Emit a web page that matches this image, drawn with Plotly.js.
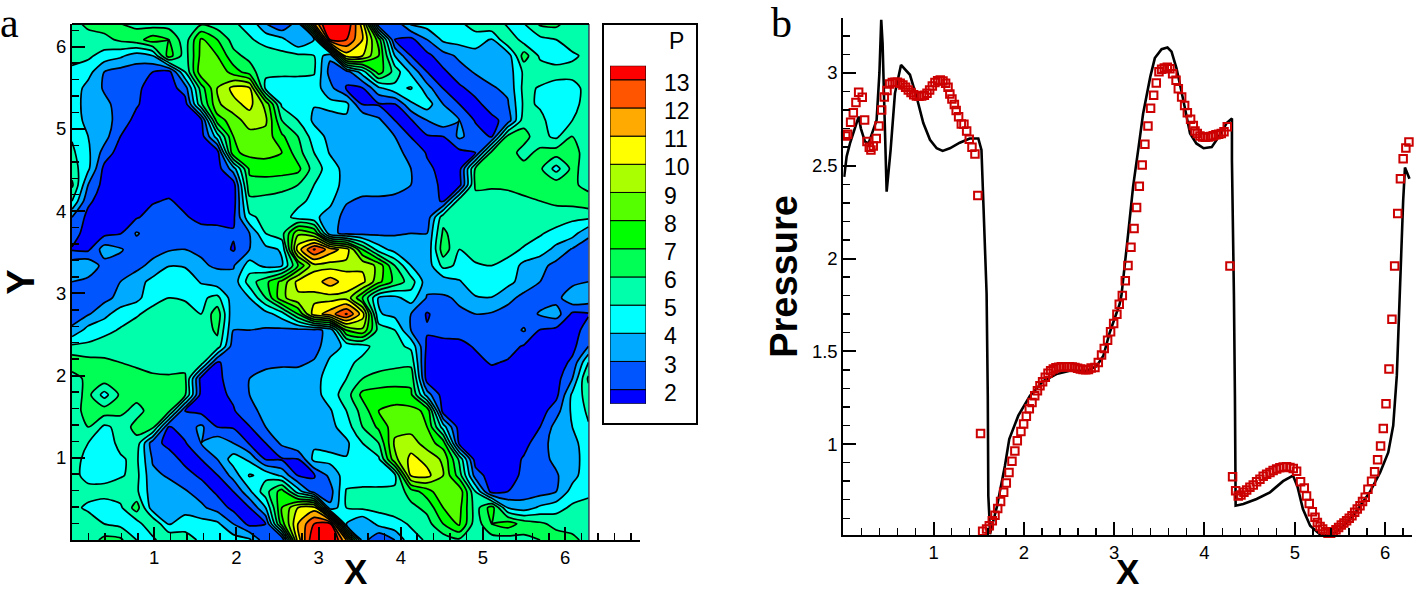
<!DOCTYPE html>
<html>
<head>
<meta charset="utf-8">
<script src="https://cdn.plot.ly/plotly-3.0.1.min.js"></script>
<style>html,body{margin:0;padding:0;background:#fff}#chart{width:1414px;height:592px}</style>
</head>
<body>
<div id="chart"></div>
<script>
// Pressure field, rows listed from the top edge (y = 2 pi) to the bottom edge (y = 0)
var pressureRows = [
[5.6,6.3,6.5,6,5.7,5.5,5.5,5.9,5.8,5.4,5.1,4.7,3,2,3.5,11,15,14,10.5,2,2.3,4.2,4.5,4.6,4.8,5.5,6,4.7,5,6.2,6.3,5.4,5.3],
[5.3,5.5,5.7,6.2,6.6,7.5,7,5.4,8.2,7,5.6,5.1,4.7,4.3,3,4,13.2,13,11,7.5,2,1.7,3,4.2,4.4,4.5,3.9,6,4.5,4.7,5,5.6,5.3],
[5.3,5.2,4.6,4.2,3.5,4,7.5,5.5,8.3,8,6.3,5.7,5.4,5.3,5.2,5,3.2,10.5,10,8,4,2,1.7,2.6,3.2,3.6,3.5,3.4,6.5,4.8,4.5,4.8,5.3],
[4.8,4.4,3,2.6,2.5,2,1.6,5,8.7,8.9,7.5,6.5,5.2,5.2,5.2,5.1,2.6,2.5,4.5,7.5,5.6,3.8,2,1.8,2.6,3.1,3.4,3.4,5.2,5.6,5.4,5.4,5.4],
[4.7,3.6,2.9,2.5,2.2,1.6,1.5,2.5,6.5,9,10.3,10.1,4.7,4.5,4.5,4.5,3.3,1.9,1.95,3.8,4.7,5.1,3.4,1.95,1.8,2.4,2.9,3.2,5.3,4.9,4.6,4.6,5.4],
[4.6,3.5,3.2,2.7,2.1,1.5,1.5,1.5,5.8,8.8,9.7,10.3,8.7,4.8,4.4,4.05,4.3,4.3,1.95,1.9,1.95,3.8,4.5,3,2,1.7,2.5,2.9,5.2,4.9,4.6,4.7,5.4],
[4.7,3.6,3.5,2.5,1.7,1.5,1.5,1.5,1.7,7.5,8.5,9.5,9.2,6,5,3.8,3.6,3.8,4,3.2,2,1.9,3,3.7,3,1.9,1.7,2.4,5.6,5.2,4.6,5,5.4],
[4.9,4,3.4,2,1.5,1.5,1.5,1.5,1.5,4.5,8,8.6,8.6,7.2,6,4.5,3.7,3.6,3.4,3.3,3,1.95,1.9,2,3.2,2.5,1.9,6.3,6.4,5.3,4.8,6,5.5],
[5.2,4.2,2.6,1.5,1.5,1.5,1.5,1.5,1.5,1.5,7.8,8.3,8.3,8,6.4,5,3.9,3.5,3.5,3.4,3.2,2.8,1.9,1.6,1.7,2,6.3,6.5,5.6,6.3,6.5,6.4,5.5],
[5.5,4.2,1.7,1.5,1.5,1.5,1.5,1.5,1.5,1.5,3.5,7.2,7.5,7.5,7.3,5.5,4.5,3.6,3.6,3.5,3.4,3,2.2,1.7,1.6,6.2,6.6,6.4,6.4,6.2,4.6,6.3,5.5],
[6.2,3,1.6,1.5,1.5,1.5,1.5,1.5,1.5,1.5,1.5,6.7,6.5,6.3,6,5,4.5,3.6,3.5,3.5,3.4,3,2.4,1.8,1.6,6.2,6.1,6.1,6.2,6.3,6.6,6.3,5.5],
[5,2.2,1.5,1.5,1.5,1.9,2.1,1.7,1.5,1.5,1.5,5.7,5.7,5.6,5.3,4.7,4.2,3.1,2.8,2.8,2.7,2.6,2.4,1.9,5.6,5.6,5.7,5.8,5.9,6,6.2,6.4,6.7],
[3,1.7,1.5,1.5,1.9,2.4,2.5,2.1,1.7,1.6,1.8,4.8,5.3,5.5,4.6,4.2,3.6,2.6,2.5,2.5,2.5,2.5,2.4,5.6,5.5,5.5,5.5,5.5,5.5,5.5,5.5,5.2,5.2],
[2.5,1.5,1.7,1.95,3.1,2.5,2.5,2.5,2.4,2.4,2.1,3,5,5.6,8.8,8,3.3,2.7,2.7,2.8,2.9,3,3,6.2,5.4,5.5,5.5,5.5,5.4,5.1,4.7,4.4,3.2],
[1.9,1.8,3.5,3.1,2.5,2.6,2.9,3,2.9,2.5,1.9,3,3.7,4.1,10.5,13.1,11.5,10.5,7,4.5,3.6,3.3,3.2,6.6,5,5.4,5.4,5.3,4.9,4.5,3.7,2.9,2.5],
[3.6,3.8,2.6,2.6,2.7,3.3,3.95,3.9,3.1,2.9,2.9,4.5,3.7,3.9,7,9.7,9.6,9.7,9.8,8.7,6,4,3.4,5.3,4.8,4.9,5,4.7,3.7,3.3,2.7,2.3,2.2],
[3,2.7,2.9,3,3.6,4.3,5,4.7,3.9,3.4,3.4,5.5,6.7,8.3,10.3,10.5,11.5,10.5,10.3,8.3,6.7,5.5,3.4,3.4,3.9,4.7,5,4.3,3.6,3,2.9,2.7,3],
[2.2,2.3,2.7,3.3,3.7,4.7,5,4.9,4.8,5.3,3.4,4,6,8.7,9.8,9.7,9.6,9.7,7,3.9,3.7,4.5,2.9,2.9,3.1,3.9,3.95,3.3,2.7,2.6,2.6,3.8,3.6],
[2.5,2.9,3.7,4.5,4.9,5.3,5.4,5.4,5,6.6,3.2,3.3,3.6,4.5,7,10.5,11.5,13.1,10.5,4.1,3.7,3,1.9,2.5,2.9,3,2.9,2.6,2.5,3.1,3.5,1.8,1.9],
[3.2,4.4,4.7,5.1,5.4,5.5,5.5,5.5,5.4,6.2,3,3,2.9,2.8,2.7,2.7,3.3,8,8.8,5.6,5,3,2.1,2.4,2.4,2.5,2.5,2.5,3.1,1.95,1.7,1.5,2.5],
[5.2,5.2,5.5,5.5,5.5,5.5,5.5,5.5,5.5,5.6,2.4,2.5,2.5,2.5,2.5,2.6,3.6,4.2,4.6,5.5,5.3,4.8,1.8,1.6,1.7,2.1,2.5,2.4,1.9,1.5,1.5,1.7,3],
[6.7,6.4,6.2,6,5.9,5.8,5.7,5.6,5.6,1.9,2.4,2.6,2.7,2.8,2.8,3.1,4.2,4.7,5.3,5.6,5.7,5.7,1.5,1.5,1.5,1.7,2.1,1.9,1.5,1.5,1.5,2.2,5],
[5.5,6.3,6.6,6.3,6.2,6.1,6.1,6.2,1.6,1.8,2.4,3,3.4,3.5,3.5,3.6,4.5,5,6,6.3,6.5,6.7,1.5,1.5,1.5,1.5,1.5,1.5,1.5,1.5,1.6,3,6.2],
[5.5,6.3,4.6,6.2,6.4,6.4,6.6,6.2,1.6,1.7,2.2,3,3.4,3.5,3.6,3.6,4.5,5.5,7.3,7.5,7.5,7.2,3.5,1.5,1.5,1.5,1.5,1.5,1.5,1.5,1.7,4.2,5.5],
[5.5,6.4,6.5,6.3,5.6,6.5,6.3,2,1.7,1.6,1.9,2.8,3.2,3.4,3.5,3.5,3.9,5,6.4,8,8.3,8.3,7.8,1.5,1.5,1.5,1.5,1.5,1.5,1.5,2.6,4.2,5.2],
[5.5,6,4.8,5.3,6.4,6.3,1.9,2.5,3.2,2,1.9,1.95,3,3.3,3.4,3.6,3.7,4.5,6,7.2,8.6,8.6,8,4.5,1.5,1.5,1.5,1.5,1.5,2,3.4,4,4.9],
[5.4,5,4.6,5.2,5.6,2.4,1.7,1.9,3,3.7,3,1.9,2,3.2,4,3.8,3.6,3.8,5,6,9.2,9.5,8.5,7.5,1.7,1.5,1.5,1.5,1.7,2.5,3.5,3.6,4.7],
[5.4,4.7,4.6,4.9,5.2,2.9,2.5,1.7,2,3,4.5,3.8,1.95,1.9,1.95,4.3,4.3,4.05,4.4,4.8,8.7,10.3,9.7,8.8,5.8,1.5,1.5,1.5,2.1,2.7,3.2,3.5,4.6],
[5.4,4.6,4.6,4.9,5.3,3.2,2.9,2.4,1.8,1.95,3.4,5.1,4.7,3.8,1.95,1.9,3.3,4.5,4.5,4.5,4.7,10.1,10.3,9,6.5,2.5,1.5,1.6,2.2,2.5,2.9,3.6,4.7],
[5.4,5.4,5.4,5.6,5.2,3.4,3.4,3.1,2.6,1.8,2,3.8,5.6,7.5,4.5,2.5,2.6,5.1,5.2,5.2,5.2,6.5,7.5,8.9,8.7,5,1.6,2,2.5,2.6,3,4.4,4.8],
[5.3,4.8,4.5,4.8,6.5,3.4,3.5,3.6,3.2,2.6,1.7,2,4,8,10,10.5,3.2,5,5.2,5.3,5.4,5.7,6.3,8,8.3,5.5,7.5,4,3.5,4.2,4.6,5.2,5.3],
[5.3,5.6,5,4.7,4.5,6,3.9,4.5,4.4,4.2,3,1.7,2,7.5,11,13,13.2,4,3,4.3,4.7,5.1,5.6,7,8.2,5.4,7,7.5,6.6,6.2,5.7,5.5,5.3],
[5.3,5.4,6.3,6.2,5,4.7,6,5.5,4.8,4.6,4.5,4.2,2.3,2,10.5,14,15,11,3.5,2,3,4.7,5.1,5.4,5.8,5.9,5.5,5.5,5.7,6,6.5,6.3,5.6]
];
var gridStep = 0.19635;
var bandColors = ['#0000ff','#0055ff','#00aaff','#00ffff','#00ffaa','#00ff55','#00ff00','#55ff00','#aaff00','#ffff00','#ffaa00','#ff5500','#ff0000'];
var bandEdges = [1.5,2,3,4,5,6,7,8,9,10,11,12,13,13.5];
var levelLabels = [2,3,4,5,6,7,8,9,10,11,12,13];

// Panel b
var curveX = [0.01,0.037,0.074,0.13,0.17,0.195,0.24,0.28,0.369,0.40,0.413,0.42,0.435,0.45,0.48,0.524,0.572,0.639,0.738,0.812,0.886,0.96,1.034,1.1,1.18,1.29,1.40,1.495,1.53,1.55,1.587,1.6,1.606,1.617,1.624,1.70,1.79,1.838,1.938,2.067,2.215,2.36,2.51,2.695,2.805,2.88,2.95,3.06,3.08,3.155,3.21,3.27,3.32,3.40,3.45,3.525,3.59,3.635,3.69,3.765,3.84,3.91,3.99,4.08,4.17,4.245,4.304,4.304,4.32,4.326,4.337,4.345,4.43,4.577,4.725,4.87,4.98,5.03,5.09,5.17,5.28,5.39,5.54,5.685,5.83,5.945,6.035,6.09,6.13,6.15,6.165,6.18,6.2,6.22,6.27];
var curveY = [2.44,2.55,2.62,2.71,2.765,2.70,2.63,2.62,2.746,3.0,3.21,3.286,3.16,2.854,2.36,2.585,2.89,3.043,2.99,2.87,2.73,2.64,2.594,2.58,2.594,2.624,2.647,2.647,2.585,2.315,1.81,1.26,0.72,0.614,0.515,0.66,0.883,1.027,1.153,1.26,1.34,1.377,1.395,1.395,1.42,1.476,1.60,1.754,1.80,2.135,2.39,2.60,2.78,2.98,3.08,3.128,3.137,3.115,3.025,2.854,2.674,2.62,2.594,2.60,2.665,2.73,2.755,2.53,2.135,1.80,1.26,0.668,0.677,0.704,0.74,0.80,0.83,0.77,0.65,0.56,0.513,0.506,0.56,0.64,0.74,0.847,0.955,1.10,1.37,1.67,1.80,2.10,2.31,2.49,2.43];
var squareX = [0.026,0.048,0.081,0.111,0.14,0.17,0.21,0.236,0.262,0.288,0.306,0.332,0.365,0.395,0.425,0.454,0.484,0.513,0.543,0.572,0.60,0.63,0.66,0.69,0.72,0.75,0.78,0.81,0.838,0.868,0.897,0.927,0.956,0.986,1.015,1.045,1.074,1.104,1.133,1.16,1.18,1.203,1.23,1.25,1.277,1.307,1.336,1.366,1.395,1.425,1.458,1.49,1.52,1.543,1.587,1.617,1.65,1.68,1.71,1.742,1.776,1.805,1.835,1.868,1.90,1.927,1.967,1.997,2.027,2.06,2.09,2.12,2.15,2.178,2.207,2.237,2.267,2.296,2.326,2.355,2.385,2.415,2.445,2.475,2.505,2.535,2.565,2.595,2.625,2.655,2.685,2.715,2.745,2.787,2.824,2.86,2.89,2.927,2.96,2.994,3.03,3.056,3.09,3.123,3.153,3.186,3.22,3.248,3.278,3.31,3.34,3.374,3.403,3.437,3.466,3.496,3.525,3.555,3.588,3.617,3.647,3.685,3.71,3.747,3.78,3.81,3.846,3.876,3.895,3.92,3.95,3.98,4.01,4.04,4.07,4.097,4.127,4.157,4.186,4.216,4.252,4.282,4.311,4.345,4.374,4.404,4.437,4.467,4.503,4.54,4.577,4.614,4.65,4.688,4.725,4.76,4.799,4.835,4.872,4.909,4.946,4.983,5.02,5.064,5.105,5.13,5.16,5.194,5.224,5.25,5.28,5.309,5.338,5.368,5.397,5.426,5.456,5.485,5.515,5.544,5.574,5.603,5.633,5.663,5.692,5.722,5.75,5.78,5.81,5.85,5.884,5.917,5.95,5.98,6.01,6.043,6.076,6.106,6.14,6.17,6.2,6.23,6.264];
var squareY = [2.66,2.67,2.734,2.786,2.84,2.896,2.869,2.746,2.63,2.60,2.585,2.606,2.647,2.714,2.80,2.87,2.905,2.94,2.948,2.95,2.95,2.945,2.935,2.923,2.908,2.894,2.883,2.876,2.874,2.876,2.88,2.89,2.908,2.93,2.948,2.958,2.962,2.957,2.944,2.923,2.887,2.86,2.83,2.797,2.764,2.725,2.723,2.687,2.642,2.60,2.563,2.34,1.057,0.53,0.542,0.56,0.587,0.617,0.653,0.69,0.74,0.79,0.847,0.907,0.962,1.018,1.068,1.108,1.15,1.19,1.224,1.26,1.287,1.314,1.336,1.36,1.382,1.395,1.404,1.411,1.414,1.416,1.417,1.417,1.416,1.415,1.412,1.408,1.404,1.402,1.401,1.402,1.41,1.413,1.44,1.48,1.515,1.56,1.605,1.65,1.70,1.754,1.80,1.88,1.962,2.06,2.162,2.275,2.39,2.504,2.615,2.714,2.81,2.88,2.946,3.007,3.02,3.027,3.03,3.023,2.995,2.96,2.915,2.87,2.825,2.786,2.75,2.717,2.687,2.674,2.66,2.655,2.653,2.655,2.658,2.662,2.667,2.67,2.674,2.683,2.71,1.96,0.824,0.749,0.72,0.725,0.74,0.752,0.767,0.78,0.797,0.81,0.826,0.838,0.847,0.858,0.865,0.872,0.876,0.878,0.874,0.869,0.853,0.797,0.763,0.72,0.68,0.635,0.605,0.578,0.556,0.542,0.528,0.52,0.519,0.528,0.538,0.551,0.564,0.574,0.587,0.60,0.614,0.632,0.65,0.668,0.69,0.714,0.757,0.80,0.851,0.916,0.99,1.084,1.217,1.404,1.673,1.96,2.243,2.43,2.538,2.595,2.628];

var W = 1414, H = 592;
function px(v){ return v / W; }
function py(v){ return 1 - v / H; }
var FONT = 'Liberation Sans, Arial, sans-serif';
var SERIF = 'Liberation Serif, Times New Roman, serif';

var traces = [{
  type: 'contour',
  x0: 0, dx: gridStep, y0: 0, dy: gridStep,
  z: pressureRows.slice().reverse(),
  xaxis: 'x', yaxis: 'y',
  autocontour: false,
  contours: {start: 2, end: 13, size: 1, coloring: 'fill', showlines: true},
  line: {color: '#000', width: 1.7, smoothing: 0.7},
  colorscale: bandColors.map(function(c, i){ return [i / (bandColors.length - 1), c]; }),
  showscale: false,
  hoverinfo: 'skip'
}];
bandColors.forEach(function(c, i){
  traces.push({
    type: 'bar', x: [0.5], y: [bandEdges[i + 1] - bandEdges[i]], base: [bandEdges[i]], width: [1],
    xaxis: 'x3', yaxis: 'y3',
    marker: {color: c, line: {color: '#000', width: 1}},
    showlegend: false, hoverinfo: 'skip'
  });
});
traces.push({
  type: 'scatter', mode: 'lines', x: curveX, y: curveY, xaxis: 'x2', yaxis: 'y2',
  line: {color: '#000', width: 2.6}, showlegend: false, hoverinfo: 'skip'
});
traces.push({
  type: 'scatter', mode: 'markers', x: squareX, y: squareY, xaxis: 'x2', yaxis: 'y2',
  marker: {symbol: 'square-open', size: 7.5, color: '#cc0000', line: {color: '#cc0000', width: 2}},
  cliponaxis: false, showlegend: false, hoverinfo: 'skip'
});

function axisBase(extra){
  var a = {
    showgrid: false, zeroline: false, showline: true, linecolor: '#000', linewidth: 2,
    ticks: 'inside', ticklen: 13, tickwidth: 2, tickcolor: '#000',
    tickfont: {family: FONT, size: 18.5, color: '#000'}, layer: 'above traces'
  };
  for (var k in extra) a[k] = extra[k];
  return a;
}
var minor02 = {tick0: 0, dtick: 0.2, ticks: 'inside', ticklen: 7, tickwidth: 1.5, tickcolor: '#000', showgrid: false};
var minor01 = {tick0: 0, dtick: 0.1, ticks: 'inside', ticklen: 7, tickwidth: 1.5, tickcolor: '#000', showgrid: false};
var titleFontBig = {family: FONT, size: 38, color: '#000', weight: 700};
var titleFontX = {family: FONT, size: 35, color: '#000', weight: 700};

var layout = {
  width: W, height: H,
  margin: {l: 0, r: 0, t: 0, b: 0},
  paper_bgcolor: '#fff', plot_bgcolor: 'rgba(0,0,0,0)',
  barmode: 'overlay', showlegend: false,
  font: {family: FONT, color: '#000'},
  xaxis: axisBase({domain: [px(72), px(640)], range: [0, 6.91], anchor: 'y', tickvals: [1,2,3,4,5,6], ticktext: ['1','2','3','4','5','6'], minor: minor02}),
  yaxis: axisBase({domain: [py(540), py(24)], range: [0, 6.277], anchor: 'x', tickvals: [1,2,3,4,5,6], ticktext: ['1','2','3','4','5','6'], minor: minor02,
    title: {text: 'Y', font: titleFontBig, standoff: 34}}),
  xaxis2: axisBase({domain: [px(843.3), px(1412)], range: [0, 6.298], anchor: 'y2', tickvals: [1,2,3,4,5,6], ticktext: ['1','2','3','4','5','6'], minor: minor02}),
  yaxis2: axisBase({domain: [py(535), py(18)], range: [0.51, 3.296], anchor: 'x2', tickvals: [1,1.5,2,2.5,3], ticktext: ['1','1.5','2','2.5','3'], minor: minor01,
    title: {text: 'Pressure', font: titleFontBig, standoff: 3}}),
  xaxis3: {domain: [px(610), px(646)], range: [0, 1], anchor: 'y3', visible: false, fixedrange: true},
  yaxis3: {domain: [py(403.7), py(65.7)], range: [1.5, 13.5], anchor: 'x3', side: 'right', showgrid: false, zeroline: false, showline: false, ticks: '',
    tickvals: levelLabels, ticktext: levelLabels.map(String), tickfont: {family: FONT, size: 23, color: '#000'}, ticklabelstandoff: 17, ticklabelshift: 3},
  shapes: [
    {type: 'rect', xref: 'paper', yref: 'paper', x0: px(603), x1: px(697), y0: py(424), y1: py(24), line: {color: '#000', width: 2}, fillcolor: '#fff', layer: 'below'},
    {type: 'line', xref: 'paper', yref: 'paper', x0: px(72), x1: px(589), y0: py(24), y1: py(24), line: {color: '#000', width: 2}},
    {type: 'line', xref: 'paper', yref: 'paper', x0: px(589), x1: px(589), y0: py(24), y1: py(540), line: {color: '#000', width: 1}}
  ],
  annotations: [
    {xref: 'paper', yref: 'paper', x: px(676), y: py(41), text: 'P', showarrow: false, font: {family: FONT, size: 23, color: '#000'}, xanchor: 'center', yanchor: 'middle'},
    {xref: 'paper', yref: 'paper', x: px(0), y: py(0), text: 'a', showarrow: false, font: {family: SERIF, size: 42, color: '#000'}, xanchor: 'left', yanchor: 'top', xshift: 0, borderpad: 0, borderwidth: 0},
    {xref: 'paper', yref: 'paper', x: px(771), y: py(0), text: 'b', showarrow: false, font: {family: SERIF, size: 42, color: '#000'}, xanchor: 'left', yanchor: 'top', borderpad: 0, borderwidth: 0},
    {xref: 'paper', yref: 'paper', x: px(355.5), y: py(592), text: 'X', showarrow: false, font: titleFontX, xanchor: 'center', yanchor: 'bottom', borderpad: 0},
    {xref: 'paper', yref: 'paper', x: px(1127.5), y: py(592), text: 'X', showarrow: false, font: titleFontX, xanchor: 'center', yanchor: 'bottom', borderpad: 0}
  ]
};
Plotly.newPlot('chart', traces, layout, {staticPlot: true, displayModeBar: false});
</script>
</body>
</html>
